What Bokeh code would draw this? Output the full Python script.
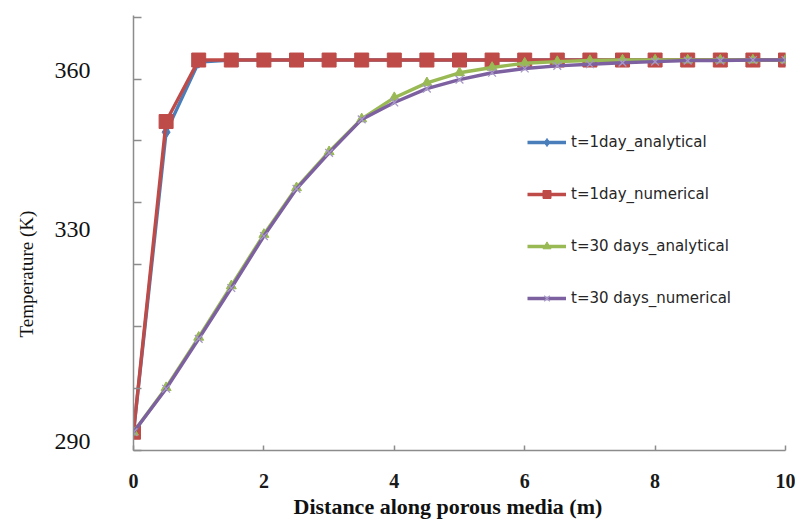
from bokeh.plotting import figure
from bokeh.models import FixedTicker, Legend, LegendItem, Range1d, Title
from bokeh.embed import file_html
from bokeh.resources import INLINE

# ---- data ----
distance = [0, 0.5, 1, 1.5, 2, 2.5, 3, 3.5, 4, 4.5, 5, 5.5, 6, 6.5, 7, 7.5, 8, 8.5, 9, 9.5, 10]
t1_analytical = [291.7, 348.3, 361.5, 361.9, 361.9, 361.9, 361.9, 361.9, 361.9, 361.9, 361.9,
                 361.9, 361.9, 361.9, 361.9, 361.9, 361.9, 361.9, 361.9, 361.9, 361.9]
t1_numerical = [291.7, 350.3, 361.9, 361.9, 361.9, 361.9, 361.9, 361.9, 361.9, 361.9, 361.9,
                361.9, 361.9, 361.9, 361.9, 361.9, 361.9, 361.9, 361.9, 361.9, 361.9]
t30_analytical = [291.7, 300.1, 309.6, 319.3, 329.0, 337.8, 344.6, 350.8, 354.8, 357.6, 359.5,
                  360.5, 361.3, 361.6, 361.8, 361.9, 361.9, 361.9, 361.9, 361.9, 361.9]
t30_numerical = [291.7, 299.9, 309.3, 318.9, 328.7, 337.6, 344.4, 350.7, 353.9, 356.5, 358.2,
                 359.5, 360.3, 360.8, 361.1, 361.4, 361.6, 361.8, 361.8, 361.9, 361.9]

series_labels = ["t=1day_analytical", "t=1day_numerical",
                 "t=30 days_analytical", "t=30 days_numerical"]
x_ticks = [0, 2, 4, 6, 8, 10]
y_tick_labels = [290, 330, 360]
x_title = "Distance along porous media (m)"
y_title = "Temperature (K)"

# ---- figure ----
W, H = 795, 525
Y0, Y1 = 288.25, 370.3
p = figure(width=W, height=H, output_backend="svg", toolbar_location=None,
           x_range=Range1d(0, 10), y_range=Range1d(Y0, Y1),
           min_border_left=133, min_border_right=10, min_border_top=15, min_border_bottom=75)
p.outline_line_color = None
p.background_fill_color = "white"
p.grid.visible = False

axis_grey = "#8c8c8c"

# x axis
p.xaxis.ticker = FixedTicker(ticks=x_ticks)
p.xaxis.axis_line_color = axis_grey
p.xaxis.axis_line_width = 1.5
p.xaxis.major_tick_line_color = axis_grey
p.xaxis.major_tick_line_width = 1.5
p.xaxis.major_tick_in = 5
p.xaxis.major_tick_out = 0
p.xaxis.minor_tick_line_color = None
p.xaxis.major_label_standoff = 23
p.xaxis.major_label_text_font = "Liberation Serif"
p.xaxis.major_label_text_font_style = "bold"
p.xaxis.major_label_text_font_size = "20px"
p.xaxis.major_label_text_color = "#1a1a1a"

# y axis: labelled values plus evenly spaced tick marks
step = (Y1 - Y0 - 0.3) / 7.0
y_marks = [Y0 + k * step for k in range(8)]
p.yaxis.ticker = FixedTicker(ticks=y_tick_labels, minor_ticks=y_marks)
p.yaxis.axis_line_color = axis_grey
p.yaxis.axis_line_width = 1.5
p.yaxis.major_tick_line_color = None
p.yaxis.major_tick_in = 0
p.yaxis.major_tick_out = 0
p.yaxis.minor_tick_line_color = axis_grey
p.yaxis.minor_tick_line_width = 1.5
p.yaxis.minor_tick_in = 8
p.yaxis.minor_tick_out = 0
p.yaxis.major_label_standoff = 43
p.yaxis.major_label_text_font = "Liberation Serif"
p.yaxis.major_label_text_font_size = "24px"
p.yaxis.major_label_text_color = "#111111"

# ---- series ----
colors = ["#4a7ebb", "#be4b48", "#98b954", "#7d60a0"]
values = [t1_analytical, t1_numerical, t30_analytical, t30_numerical]
markers = ["diamond", "square", "triangle", "x"]
sizes = [12, 14, 10, 11]

items = []
for lab, col, vals, mk, sz in zip(series_labels, colors, values, markers, sizes):
    lr = p.line(distance, vals, line_color=col, line_width=3.4)
    if mk == "x":
        sr = p.scatter(distance, vals, marker=mk, size=sz, line_color="#a898c8", line_width=1.3)
    else:
        sr = p.scatter(distance, vals, marker=mk, size=sz, fill_color=col, line_color=col)
    items.append(LegendItem(label=lab, renderers=[lr, sr]))

legend = Legend(items=items, location=(394, 142), border_line_color=None,
                background_fill_alpha=0, padding=0, margin=0,
                glyph_width=39, glyph_height=20, label_height=20, spacing=32,
                label_standoff=5, label_text_font="DejaVu Sans",
                label_text_font_size="15px", label_text_color="#262626")
p.add_layout(legend, "center")

# ---- axis titles (as side titles so they can sit off-centre like the reference) ----
p.add_layout(Title(text=y_title, align="left", offset=113, standoff=26,
                   vertical_align="top", text_font="Liberation Serif",
                   text_font_style="normal", text_font_size="19px",
                   text_color="#111111"), "left")
p.add_layout(Title(text=x_title, align="left", offset=160, standoff=6,
                   vertical_align="top", text_font="Liberation Serif",
                   text_font_style="bold", text_font_size="22px",
                   text_color="#111111"), "below")

open("out.html", "w").write(file_html(p, INLINE))
